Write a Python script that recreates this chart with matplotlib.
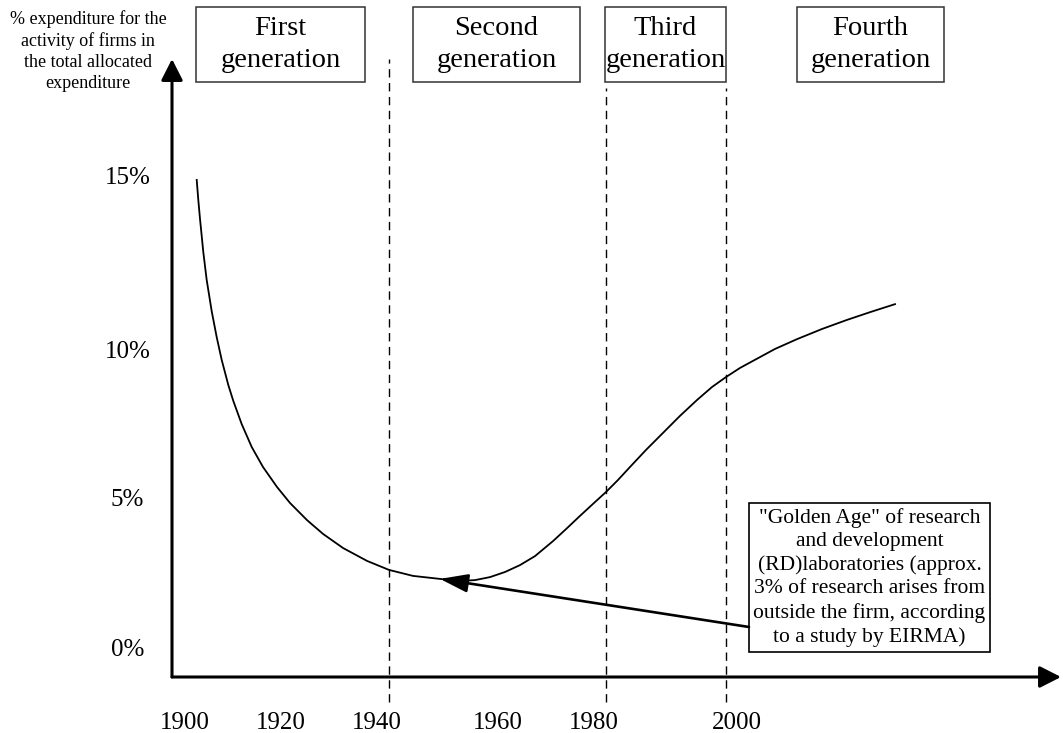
"""
Schematic: share of R&D expenditure in firms across the four
generations of innovation management (1900 - 2000+).
Output: out.png
"""

import numpy as np
import matplotlib
matplotlib.use("Agg")
import matplotlib.pyplot as plt
from matplotlib.patches import Rectangle

plt.rcParams["font.family"] = ["Liberation Serif", "DejaVu Serif"]

# ---- data ----
curve_years = [1902.44, 1902.77, 1903.13, 1903.48, 1903.81, 1904.52, 1905.56,
               1906.60, 1907.65, 1909.02, 1910.06, 1911.81, 1913.90, 1916.25,
               1919.17, 1921.88, 1925.42, 1928.75, 1932.92, 1937.92, 1941.98,
               1945.95, 1950.41, 1953.72, 1956.20, 1958.68, 1961.46, 1964.58,
               1967.71, 1971.46, 1974.17, 1977.08, 1979.79, 1981.68, 1983.36,
               1985.03, 1987.27, 1989.65, 1992.03, 1994.41, 1996.50, 1998.46,
               2000.55, 2002.91, 2006.91, 2010.91, 2015.45, 2020.00, 2024.36,
               2028.73]
curve_pct = [14.86, 14.29, 13.74, 13.26, 12.80, 12.00, 11.11,
             10.37, 9.66, 8.81, 8.27, 7.48, 6.70, 6.02,
             5.34, 4.80, 4.23, 3.77, 3.30, 2.87, 2.57,
             2.37, 2.27, 2.20, 2.23, 2.33, 2.50, 2.73,
             3.03, 3.53, 3.93, 4.37, 4.77, 5.17, 5.58,
             6.02, 6.60, 7.18, 7.76, 8.30, 8.74, 9.08,
             9.39, 9.63, 10.03, 10.31, 10.60, 10.86, 11.09,
             11.31]

year_ticks = [1900, 1920, 1940, 1960, 1980, 2000]
pct_ticks = [0, 5, 10, 15]
pct_labels = ["0%", "5%", "10%", "15%"]

divider_years = [1942.0, 1981.7, 1998.5]
golden_age = (1950.41, 2.27)

generations = ["First\ngeneration", "Second\ngeneration",
               "Third\ngeneration", "Fourth\ngeneration"]
note = ('"Golden Age" of research\nand development\n'
        '(RD)laboratories (approx.\n3% of research arises from\n'
        'outside the firm, according\nto a study by EIRMA)')
ylabel = ("% expenditure for the\nactivity of firms in\n"
          "the total allocated\nexpenditure")

# ---- layout ----
W, H = 1063, 733

# the drawing is a hand-made schematic, so the axes are uneven:
# anchor each labelled value at its place on the page
x_anchor_val = [1860, 1900, 1920, 1940, 1960, 1980, 2000, 2100]
x_anchor_px = [-7, 185, 281, 377, 498, 594, 737, 1287]
y_anchor_val = [-10, 0, 5, 10, 15, 30]
y_anchor_px = [-214, 86, 236, 383, 558, 1083]


def fx(v):
    return np.interp(v, x_anchor_val, x_anchor_px)


def fx_inv(p):
    return np.interp(p, x_anchor_px, x_anchor_val)


def fy(v):
    return np.interp(v, y_anchor_val, y_anchor_px)


def fy_inv(p):
    return np.interp(p, y_anchor_px, y_anchor_val)


def px(x, y):
    """page pixels (from top-left) -> figure fraction"""
    return x / W, 1 - y / H


fig = plt.figure(figsize=(W / 100, H / 100), dpi=100)
ax = fig.add_axes([0, 0, 1, 1])
ax.set_xscale("function", functions=(fx, fx_inv))
ax.set_yscale("function", functions=(fy, fy_inv))
ax.set_xlim(fx_inv(0), fx_inv(W))
ax.set_ylim(fy_inv(0), fy_inv(H))
ax.patch.set_visible(False)

x0 = fx_inv(172)          # y axis position
y0 = fy_inv(733 - 677)    # x axis position
x_end = fx_inv(1061)
y_end = fy_inv(733 - 59)

for s in ax.spines.values():
    s.set_visible(False)
ax.spines["bottom"].set_position(("data", y0))
ax.spines["left"].set_position(("data", x0))

# axes with arrow heads
arrow_kw = dict(arrowstyle="-|>,head_length=0.65,head_width=0.33",
                color="black", lw=2.2, shrinkA=0, shrinkB=0,
                mutation_scale=20)
ax.annotate("", xy=(x_end, y0), xytext=(x0, y0), arrowprops=arrow_kw)
ax.annotate("", xy=(x0, y_end), xytext=(x0, y0), arrowprops=arrow_kw)

ax.set_xticks(year_ticks)
ax.set_xticklabels([str(y) for y in year_ticks])
ax.set_yticks(pct_ticks)
ax.set_yticklabels(pct_labels)
ax.minorticks_off()
ax.tick_params(axis="x", length=0, pad=25, labelsize=18)
ax.tick_params(axis="y", length=0, pad=32, labelsize=18)
for lab in ax.get_yticklabels():
    lab.set_horizontalalignment("center")

# generation dividers
div_tops = [fy_inv(733 - 59), fy_inv(733 - 88), fy_inv(733 - 88)]
div_bottom = fy_inv(733 - 702)
for xv, top in zip(divider_years, div_tops):
    ax.plot([xv, xv], [div_bottom, top], color="black", lw=1.0,
            dashes=(6, 4), clip_on=False)

# the curve
ax.plot(curve_years, curve_pct, color="black", lw=1.3,
        solid_joinstyle="round")

# note box and arrow
nb = (749, 503, 990, 652)
fig.patches.append(Rectangle(px(nb[0], nb[3]), (nb[2] - nb[0]) / W,
                             (nb[3] - nb[1]) / H, transform=fig.transFigure,
                             fill=False, ec="black", lw=1.2))
fig.text(*px((nb[0] + nb[2]) / 2, (nb[1] + nb[3]) / 2), note,
         ha="center", va="center", fontsize=15.5, linespacing=1.3)
ax.annotate("", xy=golden_age, xytext=(749, 733 - 627),
            textcoords="figure pixels",
            arrowprops=dict(arrowstyle="-|>,head_length=0.85,head_width=0.28",
                            color="black", lw=1.9, shrinkA=0, shrinkB=0,
                            mutation_scale=20))

# generation boxes
gen_boxes = [(196, 365), (413, 580), (605, 726), (797, 944)]
gy0, gy1 = 7, 82
for (a, b), name in zip(gen_boxes, generations):
    fig.patches.append(Rectangle(px(a, gy1), (b - a) / W, (gy1 - gy0) / H,
                                 transform=fig.transFigure, fill=False,
                                 ec="#333333", lw=1.1))
    fig.text(*px((a + b) / 2, (gy0 + gy1) / 2), name, ha="center",
             va="center", fontsize=20.5, linespacing=1.35)

# y axis caption
fig.text(*px(88, 51), ylabel, ha="center", va="center", fontsize=13,
         linespacing=1.3)

fig.savefig("out.png", dpi=100)
plt.close(fig)
